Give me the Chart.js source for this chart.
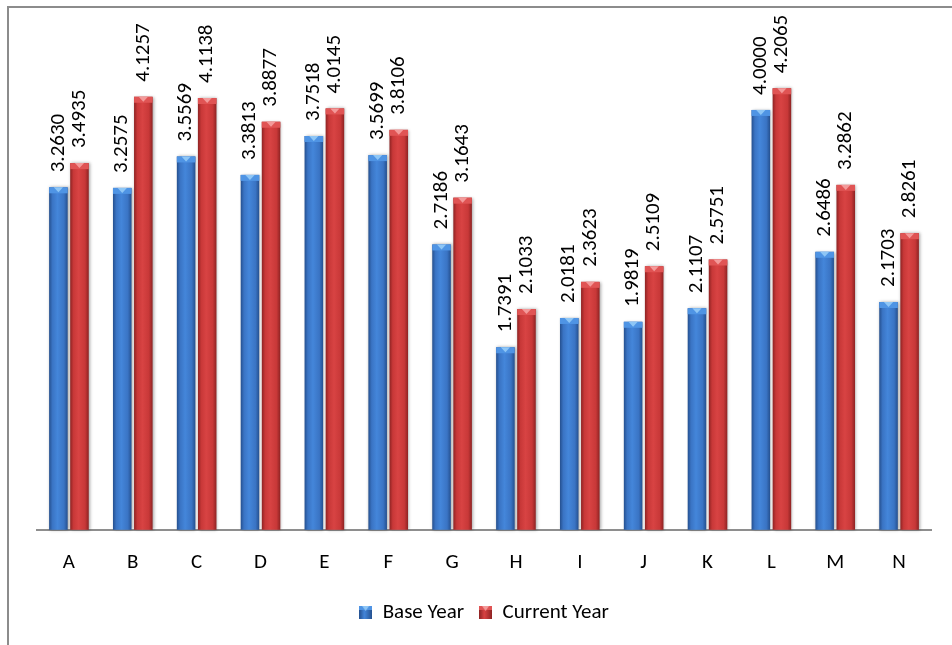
<!DOCTYPE html>
<html>
<head>
<meta charset="utf-8">
<script src="https://cdn.jsdelivr.net/npm/chart.js@4/dist/chart.umd.min.js"></script>
<style>
  html, body { margin: 0; padding: 0; background: #fff; }
  #wrap { width: 952px; height: 645px; position: relative; }
</style>
</head>
<body>
<div id="wrap"><canvas id="c" width="952" height="645"></canvas></div>
<script>
// Categories and series values
const categories = ['A','B','C','D','E','F','G','H','I','J','K','L','M','N'];
const baseYear = [3.2630, 3.2575, 3.5569, 3.3813, 3.7518, 3.5699, 2.7186, 1.7391, 2.0181, 1.9819, 2.1107, 4.0000, 2.6486, 2.1703];
const currentYear = [3.4935, 4.1257, 4.1138, 3.8877, 4.0145, 3.8106, 3.1643, 2.1033, 2.3623, 2.5109, 2.5751, 4.2065, 3.2862, 2.8261];
const seriesNames = ['Base Year', 'Current Year'];

const FONT = 'Carlito, Calibri, Lato, sans-serif';

// Shading per series: side gradient, top cap, cap highlight
const palettes = [
  { base: '#3a74c4', dark: '#25508f', light: '#4486da', cap: '#4f94e4', tri: '#8ec6f6' },
  { base: '#c83838', dark: '#8e2323', light: '#d84343', cap: '#e05454', tri: '#f39a9a' }
];

function legendIcon(p) {
  const cv = document.createElement('canvas');
  cv.width = 13; cv.height = 13;
  const g = cv.getContext('2d');
  const gr = g.createLinearGradient(0, 0, 13, 0);
  gr.addColorStop(0, p.dark); gr.addColorStop(0.4, p.light); gr.addColorStop(1, p.dark);
  g.fillStyle = gr; g.fillRect(0, 0, 13, 13);
  g.fillStyle = p.cap; g.fillRect(0, 0, 13, 4);
  g.fillStyle = p.tri;
  g.beginPath(); g.moveTo(3, 0); g.lineTo(10, 0); g.lineTo(6.5, 5); g.closePath(); g.fill();
  return cv;
}

// Draws the shaded bars, their caps and the rotated value labels
const shadedBars = {
  id: 'shadedBars',
  afterDatasetsDraw(chart) {
    const ctx = chart.ctx;
    chart.data.datasets.forEach((ds, di) => {
      const p = palettes[di];
      chart.getDatasetMeta(di).data.forEach((bar, i) => {
        const w = bar.width, x0 = bar.x - w / 2, top = bar.y, bottom = bar.base;
        ctx.save();
        ctx.shadowColor = 'rgba(0,0,0,0.35)';
        ctx.shadowBlur = 3;
        ctx.shadowOffsetX = 1;
        ctx.shadowOffsetY = 0;
        const gr = ctx.createLinearGradient(x0, 0, x0 + w, 0);
        gr.addColorStop(0, p.dark);
        gr.addColorStop(0.18, p.base);
        gr.addColorStop(0.45, p.light);
        gr.addColorStop(0.8, p.base);
        gr.addColorStop(1, p.dark);
        ctx.fillStyle = gr;
        ctx.fillRect(x0, top, w, bottom - top);
        ctx.restore();
        // top cap
        ctx.fillStyle = p.cap;
        ctx.fillRect(x0, top, w, 6);
        ctx.fillStyle = p.tri;
        ctx.beginPath();
        ctx.moveTo(x0 + w * 0.25, top);
        ctx.lineTo(x0 + w * 0.75, top);
        ctx.lineTo(bar.x, top + 5);
        ctx.closePath();
        ctx.fill();
        // value label
        ctx.save();
        ctx.translate(bar.x, top - 15);
        ctx.rotate(-Math.PI / 2);
        ctx.fillStyle = '#000';
        ctx.font = '21px ' + FONT;
        ctx.textAlign = 'left';
        ctx.textBaseline = 'middle';
        ctx.fillText(ds.data[i].toFixed(4), 0, 0);
        ctx.restore();
      });
    });
  }
};

// Outer frame lines
const frame = {
  id: 'frame',
  beforeDraw(chart) {
    const ctx = chart.ctx;
    ctx.save();
    ctx.strokeStyle = '#8c8c8c';
    ctx.lineWidth = 2;
    ctx.beginPath();
    ctx.moveTo(8, 645);
    ctx.lineTo(8, 7);
    ctx.lineTo(952, 7);
    ctx.stroke();
    ctx.restore();
  }
};

new Chart(document.getElementById('c'), {
  type: 'bar',
  data: {
    labels: categories,
    datasets: [
      { label: seriesNames[0], data: baseYear, backgroundColor: 'rgba(0,0,0,0)', borderWidth: 0,
        pointStyle: legendIcon(palettes[0]) },
      { label: seriesNames[1], data: currentYear, backgroundColor: 'rgba(0,0,0,0)', borderWidth: 0,
        pointStyle: legendIcon(palettes[1]) }
    ]
  },
  options: {
    responsive: false,
    animation: false,
    events: [],
    layout: { padding: { left: 37, right: 21, top: 5, bottom: 12 } },
    datasets: { bar: { categoryPercentage: 0.66, barPercentage: 0.88 } },
    scales: {
      x: {
        grid: { display: false },
        border: { display: true, color: '#8e8e8e', width: 2 },
        ticks: { color: '#000', font: { family: FONT, size: 21 }, padding: 12, maxRotation: 0 }
      },
      y: { display: false, min: 0, max: 5 }
    },
    plugins: {
      legend: {
        position: 'bottom',
        labels: { usePointStyle: true, color: '#000', font: { family: FONT, size: 21 }, padding: 15, boxWidth: 13 }
      },
      tooltip: { enabled: false }
    }
  },
  plugins: [frame, shadedBars]
});
</script>
</body>
</html>
